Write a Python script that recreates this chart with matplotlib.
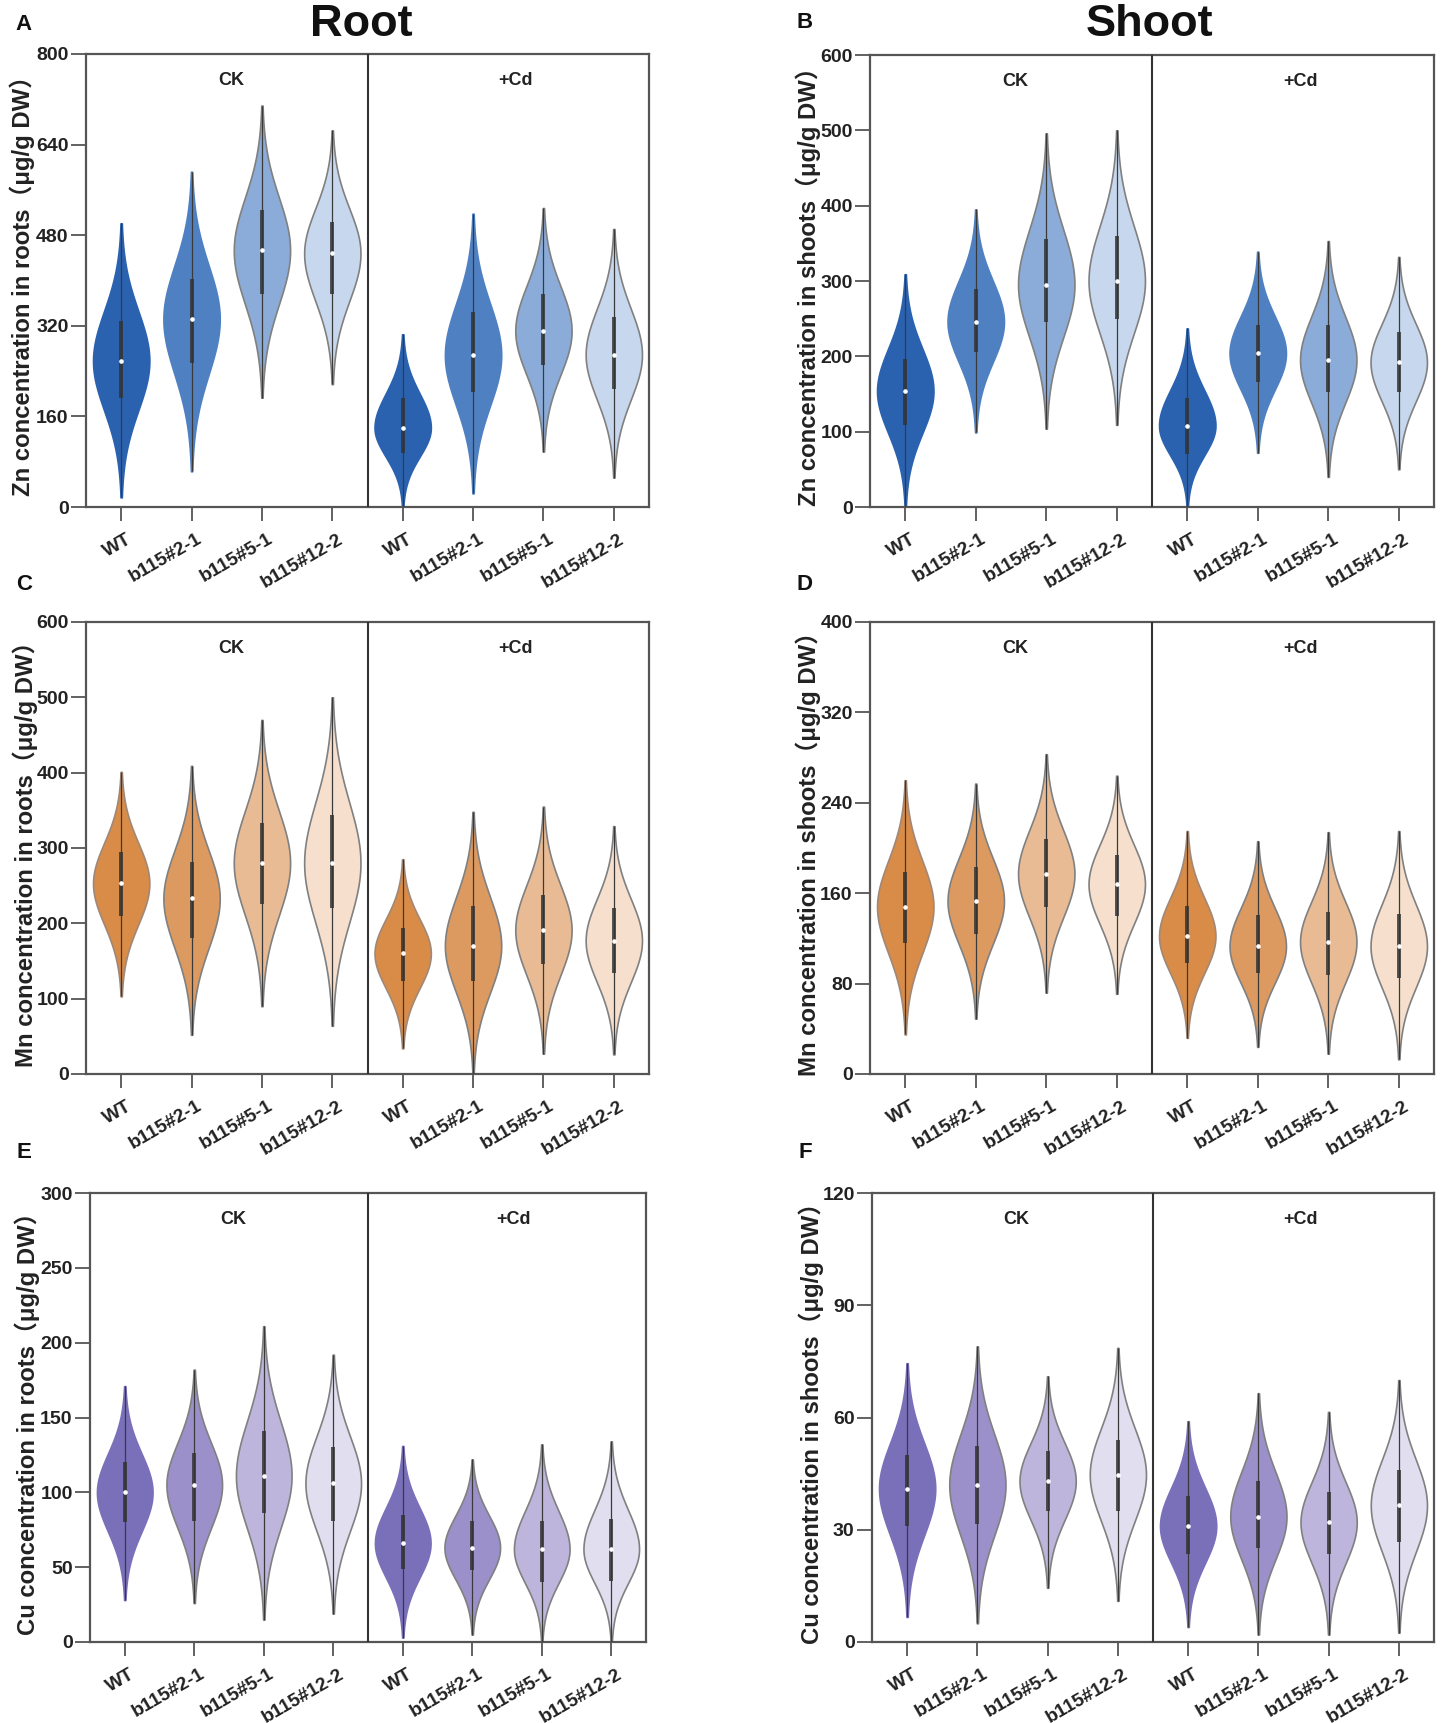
import numpy as np
import matplotlib
matplotlib.use('Agg')
import matplotlib.pyplot as plt

plt.rcParams['font.family'] = ['Liberation Sans', 'Noto Sans CJK SC', 'DejaVu Sans']

W, H = 1441, 1723

genotypes = ['WT', 'b115#2-1', 'b115#5-1', 'b115#12-2'] * 2

# values, one list per statistic: CK x4, then +Cd x4
zn_root_top = [501, 592, 709, 665, 305, 518, 528, 491]
zn_root_low = [17, 63, 193, 217, 0, 24, 98, 52]
zn_root_med = [258, 332, 453, 448, 140, 268, 311, 269]
zn_root_q1 = [193, 254, 377, 377, 95, 203, 250, 208]
zn_root_q3 = [328, 403, 525, 504, 193, 345, 376, 335]

zn_shoot_top = [309, 395, 496, 500, 237, 339, 353, 332]
zn_shoot_low = [0, 99, 104, 109, 0, 72, 40, 50]
zn_shoot_med = [154, 246, 295, 300, 108, 204, 195, 192]
zn_shoot_q1 = [109, 206, 245, 250, 70, 166, 152, 152]
zn_shoot_q3 = [196, 290, 356, 360, 145, 242, 241, 232]

mn_root_top = [401, 409, 470, 500, 285, 348, 355, 329]
mn_root_low = [103, 52, 90, 64, 34, 0, 27, 26]
mn_root_med = [253, 233, 280, 280, 160, 170, 191, 177]
mn_root_q1 = [210, 181, 226, 221, 123, 123, 146, 134]
mn_root_q3 = [295, 282, 333, 344, 194, 223, 238, 221]

mn_shoot_top = [260, 257, 283, 264, 215, 206, 214, 215]
mn_shoot_low = [35, 49, 72, 71, 32, 24, 18, 13]
mn_shoot_med = [148, 153, 177, 168, 122, 113, 117, 113]
mn_shoot_q1 = [116, 124, 148, 140, 98, 89, 88, 85]
mn_shoot_q3 = [179, 183, 208, 194, 149, 141, 143, 142]

cu_root_top = [171, 182, 211, 192, 131, 122, 132, 134]
cu_root_low = [28, 26, 15, 19, 3, 5, 0, 0]
cu_root_med = [100, 105, 111, 106, 66, 63, 62, 62]
cu_root_q1 = [80, 81, 86, 81, 49, 48, 40, 41]
cu_root_q3 = [120, 126, 141, 130, 85, 81, 81, 82]

cu_shoot_top = [74.5, 79, 71, 78.6, 59, 66.5, 61.5, 70]
cu_shoot_low = [6.7, 5, 14.5, 11, 4, 2, 2, 2.5]
cu_shoot_med = [41, 42, 43, 44.7, 31, 33.5, 32, 36.5]
cu_shoot_q1 = [31, 31.5, 35, 35, 23.5, 25, 23.5, 26.7]
cu_shoot_q3 = [50, 52.5, 51, 54, 39, 43, 40, 46]

blues = ['#2a62b0', '#4f80c2', '#8bacd9', '#c7d8ee']
oranges = ['#d98b48', '#dd9a60', '#e8bb94', '#f6dfcc']
purples = ['#7a6fb9', '#9c90ca', '#bdb5dc', '#e1def0']


def add_axes(box):
    # box = left, right, top, bottom in image pixels
    l, r, t, b = box
    return fig.add_axes([l / W, 1 - b / H, (r - l) / W, (b - t) / H])


def violin(ax, x, top, low, med, q1, q3, color, edge):
    y = np.linspace(low, top, 300)
    sig = np.where(y > med, (top - med) / 2.75, (med - low) / 2.75)
    half = 0.4 * np.exp(-0.5 * ((y - med) / sig) ** 2)
    ax.fill_betweenx(y, x - half, x + half, facecolor=color, edgecolor=edge, linewidth=1.2, zorder=2)
    ax.plot([x, x], [low, top], color='#3a3a3a', lw=0.9, zorder=3, solid_capstyle='butt')
    ax.plot([x, x], [q1, q3], color='#333333', lw=2.8, alpha=0.85, zorder=4, solid_capstyle='butt')
    ax.plot([x], [med], 'o', color='white', ms=2.3, zorder=5)


def panel(box, ymax, yticks, ylabel, label_x, stats, colors, edges):
    ax = add_axes(box)
    top, low, med, q1, q3 = stats
    for i in range(8):
        violin(ax, i, top[i], low[i], med[i], q1[i], q3[i], colors[i % 4], edges[i % 4])
    ax.axvline(3.5, color='#333333', lw=1.5, zorder=6)
    ax.set_xlim(-0.5, 7.5)
    ax.set_ylim(0, ymax)
    ax.set_yticks(yticks)
    ax.set_xticks(range(8))
    ax.set_xticklabels([])
    # tick labels sit right of their ticks in the original, so place them by offset
    for i, name in enumerate(genotypes):
        ax.annotate(name, xy=(i, 0), xycoords=('data', 'axes fraction'), xytext=(3.5, -17),
                    textcoords='offset points', rotation=30, ha='right', va='top',
                    rotation_mode='anchor', fontsize=13.8, fontweight='bold', color='#222222')
    ax.tick_params(axis='y', length=11, width=1.3, color='#555555', labelsize=14, pad=1.5, labelcolor='#222222')
    ax.tick_params(axis='x', length=10, width=1.3, color='#555555')
    for lab in ax.get_yticklabels():
        lab.set_fontweight('bold')
    for s in ax.spines.values():
        s.set_color('#555555')
        s.set_linewidth(1.6)
    ax.text(1.56, 0.942 * ymax, 'CK', ha='center', va='center', fontsize=13, fontweight='bold', color='#222222')
    ax.text(5.6, 0.942 * ymax, '+Cd', ha='center', va='center', fontsize=13, fontweight='bold', color='#222222')
    fig.text(label_x / W, 1 - (box[2] + box[3]) / 2 / H, ylabel, rotation=90, ha='center', va='center',
             fontsize=17.2, fontweight='bold', color='#222222')
    return ax


fig = plt.figure(figsize=(W / 100, H / 100), dpi=100, facecolor='white')

grey = '#808080'
blue_edges = ['#2a62b0', '#4f80c2', grey, grey]
orange_edges = ['#a08878', grey, grey, grey]
purple_edges = ['#7a6fb9', grey, grey, grey]

panel((86, 649, 54, 507), 800, [0, 160, 320, 480, 640, 800],
      'Zn concentration in roots（μg/g DW）', 22,
      (zn_root_top, zn_root_low, zn_root_med, zn_root_q1, zn_root_q3), blues, blue_edges)
panel((870, 1434, 55, 507), 600, [0, 100, 200, 300, 400, 500, 600],
      'Zn concentration in shoots（μg/g DW）', 808,
      (zn_shoot_top, zn_shoot_low, zn_shoot_med, zn_shoot_q1, zn_shoot_q3), blues, blue_edges)
panel((86, 649, 622, 1074), 600, [0, 100, 200, 300, 400, 500, 600],
      'Mn concentration in roots（μg/g DW）', 25,
      (mn_root_top, mn_root_low, mn_root_med, mn_root_q1, mn_root_q3), oranges, orange_edges)
panel((870, 1434, 622, 1074), 400, [0, 80, 160, 240, 320, 400],
      'Mn concentration in shoots（μg/g DW）', 808,
      (mn_shoot_top, mn_shoot_low, mn_shoot_med, mn_shoot_q1, mn_shoot_q3), oranges, orange_edges)
panel((90, 646, 1193, 1642), 300, [0, 50, 100, 150, 200, 250, 300],
      'Cu concentration in roots（μg/g DW）', 27,
      (cu_root_top, cu_root_low, cu_root_med, cu_root_q1, cu_root_q3), purples, purple_edges)
panel((872, 1434, 1193, 1642), 120, [0, 30, 60, 90, 120],
      'Cu concentration in shoots（μg/g DW）', 811,
      (cu_shoot_top, cu_shoot_low, cu_shoot_med, cu_shoot_q1, cu_shoot_q3), purples, purple_edges)

fig.text(361 / W, 1 - 36 / H, 'Root', ha='center', va='baseline', fontsize=32.5, fontweight='bold', color='#111111')
fig.text(1150 / W, 1 - 36 / H, 'Shoot', ha='center', va='baseline', fontsize=32.5, fontweight='bold', color='#111111')
for letter, x, y in [('A', 24, 24), ('B', 805, 22), ('C', 24, 585), ('D', 805, 585), ('E', 24, 1153), ('F', 805, 1153)]:
    fig.text(x / W, 1 - y / H, letter, ha='center', va='center', fontsize=16, fontweight='bold', color='#111111')

fig.savefig('out.png', dpi=100)
